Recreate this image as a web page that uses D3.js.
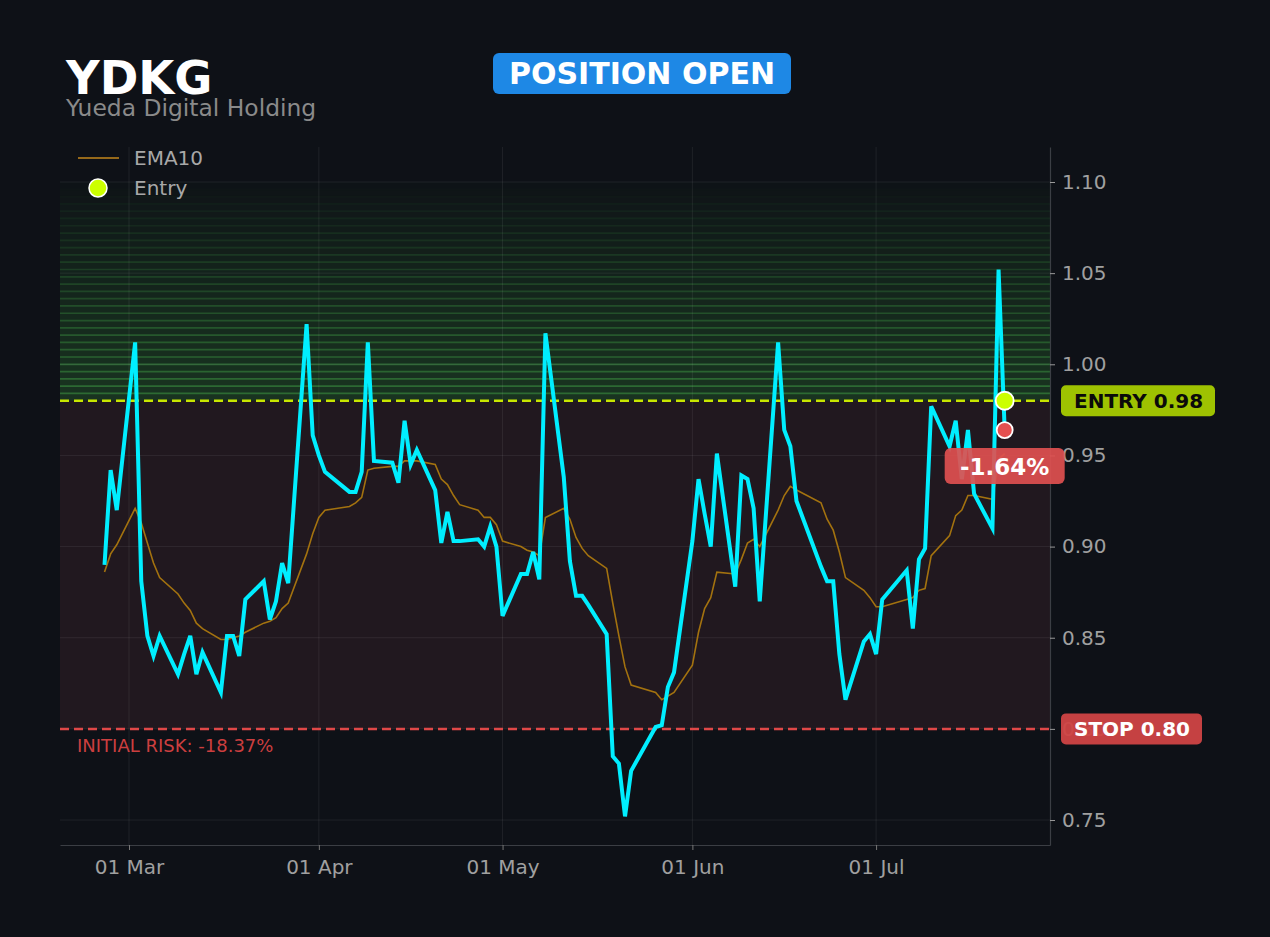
<!DOCTYPE html>
<html>
<head>
<meta charset="utf-8">
<script src="https://cdn.jsdelivr.net/npm/d3@7"></script>
<style>
  html, body { margin: 0; padding: 0; background: #0e1117; }
  svg { display: block; font-family: "DejaVu Sans", sans-serif; }
</style>
</head>
<body>
<div id="canvas"></div>
<script>
// trading days shown on the chart
var dates = [
  "2026-02-25","2026-02-26","2026-02-27",
  "2026-03-02","2026-03-03","2026-03-04","2026-03-05","2026-03-06",
  "2026-03-09","2026-03-10","2026-03-11","2026-03-12","2026-03-13",
  "2026-03-16","2026-03-17","2026-03-18","2026-03-19","2026-03-20",
  "2026-03-23","2026-03-24","2026-03-25","2026-03-26","2026-03-27",
  "2026-03-30","2026-03-31","2026-04-01","2026-04-02",
  "2026-04-06","2026-04-07","2026-04-08","2026-04-09","2026-04-10",
  "2026-04-13","2026-04-14","2026-04-15","2026-04-16","2026-04-17",
  "2026-04-20","2026-04-21","2026-04-22","2026-04-23","2026-04-24",
  "2026-04-27","2026-04-28","2026-04-29","2026-04-30","2026-05-01",
  "2026-05-04","2026-05-05","2026-05-06","2026-05-07","2026-05-08",
  "2026-05-11","2026-05-12","2026-05-13","2026-05-14","2026-05-15",
  "2026-05-18","2026-05-19","2026-05-20","2026-05-21","2026-05-22",
  "2026-05-26","2026-05-27","2026-05-28","2026-05-29",
  "2026-06-01","2026-06-02","2026-06-03","2026-06-04","2026-06-05",
  "2026-06-08","2026-06-09","2026-06-10","2026-06-11","2026-06-12",
  "2026-06-15","2026-06-16","2026-06-17","2026-06-18",
  "2026-06-22","2026-06-23","2026-06-24","2026-06-25","2026-06-26",
  "2026-06-29","2026-06-30","2026-07-01","2026-07-02",
  "2026-07-06","2026-07-07","2026-07-08","2026-07-09","2026-07-10",
  "2026-07-13","2026-07-14","2026-07-15","2026-07-16","2026-07-17",
  "2026-07-20","2026-07-21","2026-07-22"
];

var closes = [
  0.890, 0.942, 0.920,
  1.012, 0.881, 0.851, 0.840, 0.851,
  0.830, 0.841, 0.851, 0.830, 0.842,
  0.820, 0.851, 0.851, 0.840, 0.871,
  0.881, 0.860, 0.870, 0.891, 0.880,
  1.022, 0.961, 0.950, 0.941,
  0.930, 0.930, 0.941, 1.012, 0.947,
  0.946, 0.935, 0.969, 0.945, 0.953,
  0.931, 0.902, 0.919, 0.903, 0.903,
  0.904, 0.900, 0.911, 0.900, 0.862,
  0.885, 0.885, 0.897, 0.882, 1.017,
  0.938, 0.892, 0.873, 0.873, 0.868,
  0.852, 0.785, 0.781, 0.752, 0.777,
  0.801, 0.802, 0.823, 0.831,
  0.903, 0.937, 0.918, 0.900, 0.951,
  0.878, 0.939, 0.937, 0.921, 0.870,
  1.012, 0.964, 0.955, 0.925,
  0.889, 0.881, 0.881, 0.841, 0.816,
  0.848, 0.852, 0.841, 0.871,
  0.887, 0.855, 0.893, 0.899, 0.977,
  0.955, 0.969, 0.937, 0.964, 0.929,
  0.910, 1.052, 0.9639
];

var ema10 = [
  0.886, 0.896, 0.901,
  0.921, 0.913, 0.902, 0.891, 0.883,
  0.874, 0.869, 0.865, 0.858, 0.855,
  0.849, 0.849, 0.850, 0.851, 0.853,
  0.858, 0.859, 0.861, 0.866, 0.869,
  0.896, 0.907, 0.916, 0.920,
  0.922, 0.924, 0.927, 0.942, 0.943,
  0.944, 0.944, 0.947, 0.947, 0.947,
  0.945, 0.937, 0.934, 0.928, 0.923,
  0.920, 0.916, 0.916, 0.912, 0.903,
  0.900, 0.898, 0.897, 0.895, 0.916,
  0.921, 0.915, 0.905, 0.899, 0.895,
  0.888, 0.869, 0.851, 0.834, 0.824,
  0.820, 0.816, 0.818, 0.820,
  0.835, 0.853, 0.866, 0.872, 0.886,
  0.885, 0.893, 0.902, 0.904, 0.900,
  0.920, 0.928, 0.933, 0.931,
  0.924, 0.915, 0.909, 0.897, 0.883,
  0.876, 0.872, 0.867, 0.867,
  0.871, 0.872, 0.876, 0.877, 0.895,
  0.906, 0.917, 0.920, 0.928, 0.928,
  0.926, 0.948, 0.951
];

var yTicks = [0.75, 0.80, 0.85, 0.90, 0.95, 1.00, 1.05, 1.10];
var xTicks = ["2026-03-01", "2026-04-01", "2026-05-01", "2026-06-01", "2026-07-01"];
var entryPrice = 0.98,
    stopPrice = 0.80,
    targetTop = 1.10;
var ticker = "YDKG",
    company = "Yueda Digital Holding",
    status = "POSITION OPEN";

(function(d3){

  var parse = d3.utcParse("%Y-%m-%d"),
      day = 864e5,
      mar1 = parse("2026-03-01").getTime(),
      margin = {top: 147, right: 220, bottom: 92, left: 60},
      canvas_d = {width: 1270, height: 937},
      chart_d = {
        width: canvas_d.width - margin.left - margin.right,
        height: canvas_d.height - margin.top - margin.bottom
      },
      rows = dates.map(function(d, i){
        return {date: parse(d), close: closes[i], ema: ema10[i]};
      }),
      last = rows[rows.length - 1],
      canvas, chart, x, y;

  x = d3.scaleUtc()
      .domain([new Date(mar1 - 11.27 * day), new Date(mar1 + 150.4 * day)])
      .range([0, chart_d.width]);

  y = d3.scaleLinear()
      .domain([0.7363, 1.1192])
      .range([chart_d.height, 0]);

  canvas = d3.select('#canvas').append('svg')
      .attr('width', canvas_d.width)
      .attr('height', canvas_d.height);

  canvas.append('rect')
      .attr('width', canvas_d.width)
      .attr('height', canvas_d.height)
      .attr('fill', '#0e1117');

  chart = canvas.append('g')
      .attr('transform', 'translate(' + margin.left + ',' + margin.top + ')');


  /**
   * Zones: risk (stop -> entry) and striped target band above entry.
   */
  chart.append('rect')
      .attr('x', 0)
      .attr('width', chart_d.width)
      .attr('y', y(entryPrice))
      .attr('height', y(stopPrice) - y(entryPrice))
      .attr('fill', '#21181f');

  var nBands = 30,
      bandStep = (targetTop - entryPrice) / nBands,
      bands = d3.range(nBands);

  chart.append('g').selectAll('rect')
      .data(bands)
    .enter().append('rect')
      .attr('x', 0)
      .attr('width', chart_d.width)
      .attr('y', function(i){ return y(entryPrice + (i + 1) * bandStep); })
      .attr('height', function(i){ return y(entryPrice + i * bandStep) - y(entryPrice + (i + 1) * bandStep); })
      .attr('fill', '#1b3a22')
      .attr('fill-opacity', function(i){ return Math.pow(1 - i / nBands, 0.8) * 0.85; });

  chart.append('g').selectAll('line')
      .data(bands.slice(1))
    .enter().append('line')
      .attr('x1', 0)
      .attr('x2', chart_d.width)
      .attr('y1', function(i){ return y(entryPrice + i * bandStep); })
      .attr('y2', function(i){ return y(entryPrice + i * bandStep); })
      .attr('stroke', '#307336')
      .attr('stroke-width', 1.7)
      .attr('stroke-opacity', function(i){ return Math.pow(1 - i / nBands, 1.0) * 0.92; });


  /**
   * Grid.
   */
  chart.append('g').selectAll('line')
      .data(yTicks)
    .enter().append('line')
      .attr('x1', 0)
      .attr('x2', chart_d.width)
      .attr('y1', function(d){ return y(d); })
      .attr('y2', function(d){ return y(d); })
      .attr('stroke', '#ffffff')
      .attr('stroke-opacity', 0.07);

  chart.append('g').selectAll('line')
      .data(xTicks.map(parse))
    .enter().append('line')
      .attr('x1', function(d){ return x(d); })
      .attr('x2', function(d){ return x(d); })
      .attr('y1', 0)
      .attr('y2', chart_d.height)
      .attr('stroke', '#ffffff')
      .attr('stroke-opacity', 0.07);


  /**
   * Axes (right + bottom spines only).
   */
  var yAxis = chart.append('g')
      .attr('transform', 'translate(' + chart_d.width + ',0)')
      .call(d3.axisRight(y).tickValues(yTicks).tickFormat(d3.format('.2f'))
        .tickSize(5).tickSizeOuter(0).tickPadding(7));

  var xAxis = chart.append('g')
      .attr('transform', 'translate(0,' + chart_d.height + ')')
      .call(d3.axisBottom(x).tickValues(xTicks.map(parse)).tickFormat(d3.utcFormat('%d %b'))
        .tickSize(5).tickSizeOuter(0).tickPadding(10));

  [yAxis, xAxis].forEach(function(a){
    a.select('.domain').attr('stroke', '#3b3e44').attr('stroke-width', 1.2);
    a.selectAll('.tick line').attr('stroke', '#9a9a9a');
    a.selectAll('.tick text')
        .attr('fill', '#a0a0a0')
        .style('font-size', '20px')
        .style('font-family', '"DejaVu Sans", sans-serif');
  });
  xAxis.selectAll('.tick line').attr('stroke', '#777');


  /**
   * Entry / stop levels.
   */
  chart.append('line')
      .attr('x1', 0).attr('x2', chart_d.width)
      .attr('y1', y(entryPrice)).attr('y2', y(entryPrice))
      .attr('stroke', '#c8e600')
      .attr('stroke-width', 2.5)
      .attr('stroke-dasharray', '9,5');

  chart.append('line')
      .attr('x1', 0).attr('x2', chart_d.width)
      .attr('y1', y(stopPrice)).attr('y2', y(stopPrice))
      .attr('stroke', '#e04848')
      .attr('stroke-width', 2.5)
      .attr('stroke-dasharray', '9,5');

  chart.append('text')
      .attr('x', 17)
      .attr('y', y(stopPrice) + 23)
      .attr('fill', '#cc3f3f')
      .style('font-size', '18px')
      .text('INITIAL RISK: ' + ((stopPrice / entryPrice - 1) * 100).toFixed(2) + '%');


  /**
   * Lines.
   */
  chart.append('path')
      .datum(rows)
      .attr('fill', 'none')
      .attr('stroke', '#a3720f')
      .attr('stroke-width', 1.6)
      .attr('d', d3.line()
        .x(function(d){ return x(d.date); })
        .y(function(d){ return y(d.ema); }));

  chart.append('path')
      .datum(rows)
      .attr('fill', 'none')
      .attr('stroke', '#00eeff')
      .attr('stroke-width', 4)
      .attr('stroke-linejoin', 'miter')
      .attr('d', d3.line()
        .x(function(d){ return x(d.date); })
        .y(function(d){ return y(d.close); }));


  /**
   * Markers.
   */
  chart.append('circle')
      .attr('cx', x(last.date))
      .attr('cy', y(entryPrice))
      .attr('r', 9)
      .attr('fill', '#ccff00')
      .attr('stroke', '#ffffff')
      .attr('stroke-width', 1.8);

  chart.append('circle')
      .attr('cx', x(last.date))
      .attr('cy', y(last.close))
      .attr('r', 8)
      .attr('fill', '#e45050')
      .attr('stroke', '#ffffff')
      .attr('stroke-width', 1.8);

  var pnl = (last.close / entryPrice - 1) * 100,
      pnlBox = chart.append('g')
        .attr('transform', 'translate(' + x(last.date) + ',' + (y(last.close) + 36) + ')');

  pnlBox.append('rect')
      .attr('x', -60).attr('y', -18)
      .attr('width', 120).attr('height', 36)
      .attr('rx', 6)
      .attr('fill', '#e05050')
      .attr('fill-opacity', 0.92);

  pnlBox.append('text')
      .attr('text-anchor', 'middle')
      .attr('y', 8.5)
      .attr('fill', '#ffffff')
      .style('font-size', '23px')
      .style('font-weight', 'bold')
      .text((pnl > 0 ? '+' : '') + pnl.toFixed(2) + '%');


  /**
   * Right-hand level tags.
   */
  var tags = [
    {label: 'ENTRY ' + entryPrice.toFixed(2), v: entryPrice, w: 154, bg: '#a6cc00', fg: '#0a0a0a'},
    {label: 'STOP ' + stopPrice.toFixed(2), v: stopPrice, w: 141, bg: '#d04444', fg: '#ffffff'}
  ];

  var tag = chart.selectAll('g.tag')
      .data(tags)
    .enter().append('g')
      .attr('class', 'tag')
      .attr('transform', function(d){ return 'translate(' + (chart_d.width + 11) + ',' + y(d.v) + ')'; });

  tag.append('rect')
      .attr('y', -15.5)
      .attr('height', 31)
      .attr('width', function(d){ return d.w; })
      .attr('rx', 5)
      .attr('fill', function(d){ return d.bg; })
      .attr('fill-opacity', 0.95);

  tag.append('text')
      .attr('x', 13)
      .attr('y', 7.5)
      .attr('fill', function(d){ return d.fg; })
      .style('font-size', '20px')
      .style('font-weight', 'bold')
      .text(function(d){ return d.label; });


  /**
   * Legend.
   */
  var legend = canvas.append('g');

  legend.append('line')
      .attr('x1', 78).attr('x2', 119)
      .attr('y1', 158).attr('y2', 158)
      .attr('stroke', '#96691a')
      .attr('stroke-width', 2);

  legend.append('circle')
      .attr('cx', 98).attr('cy', 188)
      .attr('r', 9)
      .attr('fill', '#ccff00')
      .attr('stroke', '#ffffff')
      .attr('stroke-width', 1.5);

  legend.selectAll('text')
      .data(['EMA10', 'Entry'])
    .enter().append('text')
      .attr('x', 134)
      .attr('y', function(d, i){ return 165 + 30 * i; })
      .attr('fill', '#a8a8a8')
      .style('font-size', '20px')
      .text(function(d){ return d; });


  /**
   * Title + status badge.
   */
  canvas.append('text')
      .attr('x', 66).attr('y', 94)
      .attr('fill', '#ffffff')
      .style('font-size', '46.5px')
      .style('font-weight', 'bold')
      .text(ticker);

  canvas.append('text')
      .attr('x', 66).attr('y', 116)
      .attr('fill', '#8a8a8a')
      .style('font-size', '23.4px')
      .text(company);

  canvas.append('rect')
      .attr('x', 493).attr('y', 53)
      .attr('width', 298).attr('height', 41)
      .attr('rx', 6)
      .attr('fill', '#1e88e5');

  canvas.append('text')
      .attr('x', 642).attr('y', 84)
      .attr('text-anchor', 'middle')
      .attr('fill', '#ffffff')
      .style('font-size', '30px')
      .style('font-weight', 'bold')
      .text(status);

})(d3);
</script>
</body>
</html>
